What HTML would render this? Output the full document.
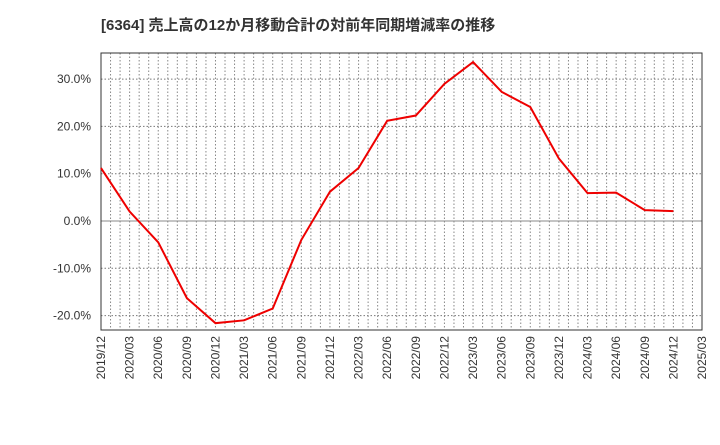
<!DOCTYPE html>
<html><head><meta charset="utf-8"><style>
body{margin:0;background:#fff;width:720px;height:440px;overflow:hidden}
svg text{font-family:"Liberation Sans","Noto Sans CJK JP",sans-serif}
</style></head><body>
<svg id="chart" width="720" height="440">
<text x="101" y="30" font-size="15" font-weight="bold" fill="#333">[6364]  売上高の12か月移動合計の対前年同期増減率の推移</text>
<g id="grid"></g><g id="axes"></g><g id="series"></g>
</svg>
<script>
const categories=["2019/12","2020/03","2020/06","2020/09","2020/12","2021/03","2021/06","2021/09","2021/12","2022/03","2022/06","2022/09","2022/12","2023/03","2023/06","2023/09","2023/12","2024/03","2024/06","2024/09","2024/12","2025/03"];
const values=[11.2,2.0,-4.5,-16.3,-21.6,-21.0,-18.5,-4.0,6.2,11.2,21.2,22.3,29.0,33.6,27.3,24.1,13.2,5.9,6.0,2.3,2.1];
const yTicks=[30,20,10,0,-10,-20];
const tickLabels=["30.0%","20.0%","10.0%","0.0%","-10.0%","-20.0%"];
const L=101,R=702,T=53,B=330;
const x=i=>L+(R-L)*i/(categories.length-1);
const y=v=>221-v*4.73;
const NS="http://www.w3.org/2000/svg";
function mk(p,t,a){const e=document.createElementNS(NS,t);for(const k in a)e.setAttribute(k,a[k]);p.appendChild(e);return e;}
const g=document.getElementById('grid'),ax=document.getElementById('axes'),s=document.getElementById('series');
for(let m=1;m<(categories.length-1)*3;m++){const xx=L+(R-L)*m/((categories.length-1)*3);
const l=mk(g,'line',{x1:xx,x2:xx,y1:T,y2:B,stroke:'#888','stroke-dasharray':'1.5,2','stroke-width':1});

}
yTicks.forEach((v,i)=>{const yy=y(v);
const l=mk(g,'line',{x1:L,x2:R,y1:yy,y2:yy,stroke:v===0?'#888':'#777','stroke-dasharray':v===0?'':'1.5,2','stroke-width':1});


const t=mk(ax,'text',{x:91,y:yy+4,'text-anchor':'end','font-size':12,fill:'#333'});t.textContent=tickLabels[i];

});
const fr=mk(ax,'rect',{x:L,y:T,width:R-L,height:B-T,fill:'none',stroke:'#333','stroke-width':1});


categories.forEach((c,i)=>{const xx=x(i);
const t=mk(ax,'text',{x:xx+4,y:B+6,'text-anchor':'end','font-size':12,fill:'#333',transform:`rotate(-90 ${xx+4} ${B+6})`});t.textContent=c;

});
const p=mk(s,'polyline',{points:values.map((v,i)=>x(i)+','+y(v)).join(' '),fill:'none',stroke:'#e00','stroke-width':2});


</script>
</body></html>
